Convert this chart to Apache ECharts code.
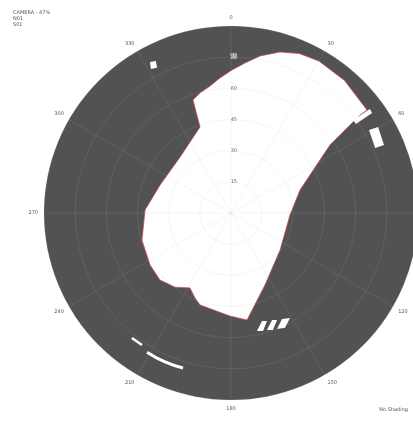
<!DOCTYPE html>
<html>
<head>
<meta charset="utf-8">
<script src="https://cdn.jsdelivr.net/npm/echarts@6/dist/echarts.min.js"></script>
<style>
html,body{margin:0;padding:0;background:#fff}
#chart{width:413px;height:421px}
</style>
</head>
<body>
<div id="chart"></div>
<script>
// Sky obstruction plot: azimuth around the dial, zenith angle outward.
const azimuthTicks = [0, 30, 60, 90, 120, 150, 180, 210, 240, 270, 300, 330];
const zenithTicks = [15, 30, 45, 60, 75];
const zenithMax = 90;

// Outline of the open sky, as [zenith, azimuth] pairs, clockwise from NNW.
const openSky = [
  [59.7, 345.5], [61.9, 350.6], [65.2, 355.3], [68.8, 0.4], [72.5, 5.3],
  [76.9, 10.5], [81.0, 16.9], [83.5, 23.2], [84.5, 30.0], [84.0, 40.6],
  [82.1, 52.9], [78.0, 52.8], [57.8, 55.5], [35.0, 71.6], [28.4, 91.9],
  [29.6, 127.0], [38.3, 154.7], [52.1, 171.5], [49.6, 180.6], [46.7, 198.6],
  [44.4, 203.0], [41.1, 208.7], [44.7, 217.0], [47.0, 226.7], [46.3, 237.3],
  [44.8, 253.0], [41.4, 272.0], [36.7, 291.5], [36.4, 317.7], [44.0, 340.2],
  [57.4, 341.4]
];

// Small gaps in the obstructions where sky shows through.
const skyGaps = [
  [[82.5, 331.8], [81.6, 333.7], [78.4, 333.0], [79.3, 330.9]],
  [[77.5, 59.0], [82.0, 59.7], [80.6, 66.0], [76.1, 65.7]],
  [[73.8, 52.7], [83.5, 53.2], [83.2, 54.7], [73.8, 54.5]],
  [[58.2, 167.6], [54.1, 164.0], [54.8, 161.6], [58.8, 164.8]],
  [[58.9, 162.9], [55.2, 159.0], [56.1, 156.7], [59.8, 160.3]],
  [[60.1, 158.4], [56.6, 154.3], [58.0, 150.7], [61.1, 154.8]]
];

// Thin sky slivers along the southwest horizon.
const skySlivers = [
  [[78.2, 211.1], [78.4, 203.9], [78.1, 197.2]],
  [[76.8, 218.4], [76.6, 214.0]]
];

const chart = echarts.init(document.getElementById('chart'), null, { renderer: 'canvas' });

function ringRadius(api) {
  const c = api.coord([0, 0]);
  const e = api.coord([zenithMax, 0]);
  return { c, r: Math.hypot(e[0] - c[0], e[1] - c[1]) };
}

function polygonSeries(shapes, fill, stroke, z) {
  return {
    type: 'custom',
    coordinateSystem: 'polar',
    silent: true,
    z,
    data: shapes.map((s, i) => [s[0][0], s[0][1], i]),
    renderItem: (params, api) => {
      const pts = shapes[params.dataIndex].map(p => api.coord(p));
      return {
        type: 'polygon',
        shape: { points: pts },
        style: { fill, stroke, lineWidth: stroke ? 1 : 0 }
      };
    }
  };
}

const series = [
  {
    // obstructed disk
    type: 'custom',
    coordinateSystem: 'polar',
    silent: true,
    z: 1,
    data: [[0, 0]],
    renderItem: (params, api) => {
      const g = ringRadius(api);
      return { type: 'circle', shape: { cx: g.c[0], cy: g.c[1], r: g.r }, style: { fill: '#525252' } };
    }
  },
  polygonSeries([openSky], '#ffffff', 'rgba(205,70,70,0.75)', 2),
  polygonSeries(skyGaps, '#ffffff', null, 2)
];

skySlivers.forEach((s, i) => {
  series.push({
    type: 'line',
    coordinateSystem: 'polar',
    silent: true,
    z: 2,
    symbol: 'none',
    smooth: true,
    lineStyle: { color: '#ffffff', width: i === 0 ? 3 : 2.5 },
    data: s
  });
});

chart.setOption({
  animation: false,
  backgroundColor: '#ffffff',
  title: [
    {
      text: 'CAMERA - 47%\nN01\nS01',
      left: 8, top: 5,
      textStyle: { fontFamily: 'DejaVu Sans', fontSize: 5, fontWeight: 'normal', color: '#555', lineHeight: 6 }
    },
    {
      text: 'No Shading',
      right: 0, bottom: 4,
      textStyle: { fontFamily: 'DejaVu Sans', fontSize: 5, fontWeight: 'normal', color: '#555' }
    }
  ],
  polar: { center: [231, 213], radius: 187 },
  angleAxis: {
    type: 'value',
    min: 0, max: 360, interval: 30,
    startAngle: 90, clockwise: true,
    z: 5,
    axisLine: { show: false },
    axisTick: { show: false },
    axisLabel: {
      margin: 6, fontSize: 5, color: '#555', fontFamily: 'DejaVu Sans',
      formatter: v => (azimuthTicks.indexOf(v) >= 0 ? String(v) : '')
    },
    splitLine: { show: true, lineStyle: { color: 'rgba(200,180,180,0.14)', width: 1 } }
  },
  radiusAxis: {
    type: 'value',
    min: 0, max: zenithMax, interval: 15,
    z: 5,
    axisLine: { show: false },
    axisTick: { show: false },
    axisLabel: {
      margin: -6, fontSize: 5, color: '#666', fontFamily: 'DejaVu Sans',
      textBorderColor: 'rgba(255,255,255,0.7)', textBorderWidth: 1.5,
      formatter: v => (zenithTicks.indexOf(v) >= 0 ? String(v) : '')
    },
    splitLine: { show: true, lineStyle: { color: 'rgba(200,180,180,0.14)', width: 1 } }
  },
  series
});
</script>
</body>
</html>
